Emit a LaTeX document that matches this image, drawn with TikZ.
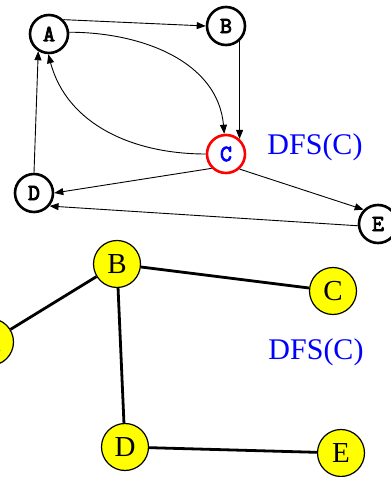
\documentclass[tikz,border=0pt]{standalone}
\usepackage{fontspec}
\setmainfont{Liberation Serif}
\newfontfamily\courbold{Latin Modern Mono}[FakeBold=4]
\usetikzlibrary{arrows.meta}
\definecolor{pureblue}{RGB}{0,0,255}
\definecolor{purered}{RGB}{255,0,0}
\definecolor{pureyellow}{RGB}{255,255,0}
\tikzset{
  gnode/.style={circle, draw=black, line width=2.6pt, minimum size=38pt, inner sep=0pt,
    font=\courbold\fontsize{23}{23}\selectfont, fill=white},
  tnode/.style={circle, draw=black, line width=1.2pt, minimum size=47pt, inner sep=0pt,
    fill=pureyellow, font=\fontsize{29}{29}\selectfont},
  arr/.style={line width=0.9pt, -{Triangle[length=9pt,width=7pt]}},
  tedge/.style={line width=2.8pt},
  lbl/.style={text=pureblue, font=\fontsize{30}{30}\selectfont, inner sep=0pt}
}
\begin{document}
\begin{tikzpicture}[x=1pt,y=1pt]
\useasboundingbox (0,0) rectangle (391,477);
\clip (0,0) rectangle (391,477);
% top graph
\node[gnode] (A) at (49,443) {A};
\node[gnode] (B) at (226,451) {B};
\node[gnode, draw=purered, text=pureblue] (C) at (226,323) {C};
\node[gnode] (D) at (34,284) {D};
\node[gnode] (E) at (378,253) {E};
\node[lbl] (L1) at (315,330) {DFS(C)};
\draw[arr] (A.45) -- (B.180);
\draw[arr] (A.5) to[out=0,in=95] (C.95);
\draw[arr] (B.-48) -- (C.48);
\draw[arr] (C.180) to[out=180,in=-75] (A.-92);
\draw[arr] (D.90) -- (A.-122);
\draw[arr] (C.-135) -- (D.0);
\draw[arr] (C.-48) -- (E.135);
\draw[arr] (E.185) -- (D.-40);
% bottom tree
\node[tnode] (tB) at (117,213) {B};
\node[tnode] (tC) at (333,186) {C};
\node[tnode] (tA) at (-10,135) {A};
\node[tnode] (tD) at (125,30) {D};
\node[tnode] (tE) at (341,24) {E};
\node[lbl] (L2) at (316,125) {DFS(C)};
\draw[tedge] (tB) -- (tA);
\draw[tedge] (tB) -- (tC);
\draw[tedge] (tB) -- (tD);
\draw[tedge] (tD) -- (tE);
\end{tikzpicture}
\end{document}
